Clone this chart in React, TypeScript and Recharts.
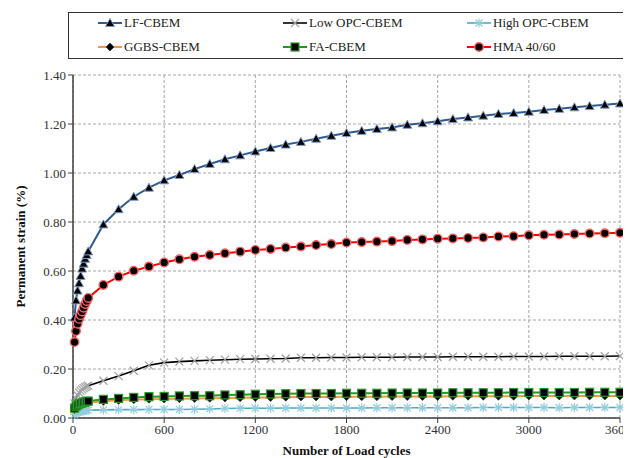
import React from "react";
import {
  LineChart,
  Line,
  XAxis,
  YAxis,
  CartesianGrid,
  Legend,
  Label,
} from "recharts";

// load cycles: dense readings up to 100, then every 100 cycles
const cycles = [
  10, 20, 30, 40, 50, 60, 70, 80, 90, 100,
  200, 300, 400, 500, 600, 700, 800, 900, 1000, 1100,
  1200, 1300, 1400, 1500, 1600, 1700, 1800, 1900, 2000, 2100,
  2200, 2300, 2400, 2500, 2600, 2700, 2800, 2900, 3000, 3100,
  3200, 3300, 3400, 3500, 3600,
];

// permanent strain (%) per mix
const lfCbem = [
  0.41, 0.48, 0.52, 0.55, 0.58, 0.61, 0.63, 0.65, 0.665, 0.68,
  0.79, 0.852, 0.903, 0.94, 0.97, 0.992, 1.016, 1.037, 1.056, 1.072,
  1.088, 1.102, 1.116, 1.127, 1.14, 1.152, 1.163, 1.172, 1.18, 1.186,
  1.197, 1.203, 1.211, 1.22, 1.227, 1.234, 1.241, 1.245, 1.25, 1.257,
  1.262, 1.268, 1.273, 1.279, 1.284,
];
const lowOpcCbem = [
  0.06, 0.08, 0.093, 0.103, 0.111, 0.117, 0.122, 0.126, 0.129, 0.132,
  0.152, 0.171, 0.193, 0.215, 0.226, 0.23, 0.233, 0.236, 0.238, 0.24,
  0.241, 0.242, 0.243, 0.246, 0.246, 0.247, 0.247, 0.248, 0.248, 0.248,
  0.249, 0.249, 0.249, 0.25, 0.25, 0.25, 0.25, 0.251, 0.251, 0.251,
  0.252, 0.252, 0.252, 0.252, 0.253,
];
const highOpcCbem = [
  0.015, 0.02, 0.023, 0.025, 0.027, 0.028, 0.029, 0.03, 0.031, 0.032,
  0.033, 0.034, 0.034, 0.035, 0.035, 0.035, 0.036, 0.037, 0.039, 0.04,
  0.04, 0.04, 0.041, 0.041, 0.041, 0.041, 0.041, 0.041, 0.042, 0.042,
  0.042, 0.042, 0.042, 0.042, 0.042, 0.043, 0.043, 0.043, 0.043, 0.043,
  0.042, 0.043, 0.043, 0.043, 0.043,
];
const ggbsCbem = [
  0.035, 0.042, 0.047, 0.051, 0.054, 0.056, 0.058, 0.06, 0.061, 0.062,
  0.068, 0.072, 0.075, 0.077, 0.078, 0.079, 0.08, 0.081, 0.082, 0.083,
  0.084, 0.084, 0.085, 0.086, 0.086, 0.086, 0.087, 0.087, 0.087, 0.088,
  0.088, 0.088, 0.088, 0.089, 0.089, 0.089, 0.089, 0.089, 0.09, 0.09,
  0.09, 0.09, 0.09, 0.09, 0.09,
];
const faCbem = [
  0.04, 0.048, 0.053, 0.057, 0.06, 0.062, 0.064, 0.066, 0.068, 0.069,
  0.076, 0.08, 0.084, 0.087, 0.088, 0.09, 0.091, 0.091, 0.094, 0.095,
  0.097, 0.098, 0.099, 0.1, 0.1, 0.1, 0.101, 0.101, 0.101, 0.102,
  0.102, 0.102, 0.102, 0.103, 0.103, 0.103, 0.103, 0.104, 0.104, 0.104,
  0.104, 0.104, 0.105, 0.105, 0.105,
];
const hma4060 = [
  0.31, 0.355, 0.385, 0.405, 0.42, 0.435, 0.45, 0.465, 0.478, 0.49,
  0.543, 0.577, 0.601, 0.618, 0.635, 0.648, 0.658, 0.665, 0.672, 0.679,
  0.686, 0.69, 0.696, 0.7, 0.706, 0.71, 0.716, 0.718, 0.72, 0.722,
  0.727, 0.729, 0.732, 0.733, 0.735, 0.737, 0.741, 0.742, 0.746, 0.748,
  0.749, 0.751, 0.753, 0.754, 0.756,
];

const xTicks = [0, 600, 1200, 1800, 2400, 3000, 3600];
const yTicks = [0, 0.2, 0.4, 0.6, 0.8, 1.0, 1.2, 1.4];

const data = cycles.map((c, i) => ({
  cycles: c,
  lf: lfCbem[i],
  lowOpc: lowOpcCbem[i],
  highOpc: highOpcCbem[i],
  ggbs: ggbsCbem[i],
  fa: faCbem[i],
  hma: hma4060[i],
}));

const FONT = "'Liberation Serif', 'Times New Roman', serif";

// marker shapes
type MarkerKind = "triangle" | "cross" | "star" | "diamond" | "square" | "circle";

function Marker({ kind, cx, cy }: { kind: MarkerKind; cx: number; cy: number }) {
  switch (kind) {
    case "triangle":
      return (
        <path
          d={`M${cx},${cy - 4.5}L${cx + 4.5},${cy + 3.5}L${cx - 4.5},${cy + 3.5}Z`}
          fill="#000"
          stroke="#7f9cc8"
          strokeWidth={1}
        />
      );
    case "cross":
      return (
        <path
          d={`M${cx - 4},${cy - 4}L${cx + 4},${cy + 4}M${cx - 4},${cy + 4}L${cx + 4},${cy - 4}`}
          stroke="#a0a0a0"
          strokeWidth={1.2}
          fill="none"
        />
      );
    case "star":
      return (
        <path
          d={`M${cx - 4.5},${cy}L${cx + 4.5},${cy}M${cx - 3.5},${cy - 3.5}L${cx + 3.5},${cy + 3.5}M${cx - 3.5},${cy + 3.5}L${cx + 3.5},${cy - 3.5}M${cx},${cy - 4.5}L${cx},${cy + 4.5}`}
          stroke="#93cddd"
          strokeWidth={1.2}
          fill="none"
        />
      );
    case "diamond":
      return (
        <path
          d={`M${cx},${cy - 4}L${cx + 4},${cy}L${cx},${cy + 4}L${cx - 4},${cy}Z`}
          fill="#000"
          stroke="#333"
          strokeWidth={0.8}
        />
      );
    case "square":
      return (
        <rect
          x={cx - 4}
          y={cy - 4}
          width={8}
          height={8}
          fill="#000"
          stroke="#2a9a2a"
          strokeWidth={1.2}
        />
      );
    default:
      return <circle cx={cx} cy={cy} r={4.3} fill="#000" stroke="#ff6060" strokeWidth={1.4} />;
  }
}

const dotFor = (kind: MarkerKind) => (props: any) => {
  const { cx, cy, index } = props;
  return (
    <g key={`${kind}-${index}`}>
      <Marker kind={kind} cx={cx} cy={cy} />
    </g>
  );
};

const series = [
  { key: "lf", name: "LF-CBEM", color: "#2f5b92", width: 2, marker: "triangle" as MarkerKind },
  { key: "lowOpc", name: "Low OPC-CBEM", color: "#000000", width: 1.6, marker: "cross" as MarkerKind },
  { key: "highOpc", name: "High OPC-CBEM", color: "#4bacc6", width: 1.6, marker: "star" as MarkerKind },
  { key: "ggbs", name: "GGBS-CBEM", color: "#f79646", width: 2, marker: "diamond" as MarkerKind },
  { key: "fa", name: "FA-CBEM", color: "#1f9a1f", width: 2, marker: "square" as MarkerKind },
  { key: "hma", name: "HMA 40/60", color: "#ff0000", width: 2, marker: "circle" as MarkerKind },
];

// boxed legend, three columns by two rows
const legendCols = [29, 214, 398];
const legendRows = [10, 34];

function LegendBox() {
  return (
    <div
      style={{
        position: "relative",
        width: 557,
        height: 47,
        border: "1.5px solid #333",
        boxSizing: "border-box",
        fontFamily: FONT,
        fontSize: 13,
        color: "#222",
      }}
    >
      {series.map((s, i) => (
        <div
          key={s.key}
          style={{
            position: "absolute",
            left: legendCols[i % 3],
            top: legendRows[Math.floor(i / 3)] - 8,
            height: 16,
            display: "flex",
            alignItems: "center",
            whiteSpace: "nowrap",
          }}
        >
          <svg width={24} height={16} style={{ marginRight: 2 }}>
            <line x1={0} y1={8} x2={24} y2={8} stroke={s.color} strokeWidth={s.width} />
            <Marker kind={s.marker} cx={12} cy={8} />
          </svg>
          <span>{s.name}</span>
        </div>
      ))}
    </div>
  );
}

const tickStyle = { fontSize: 13, fill: "#333", fontFamily: FONT };

export default function App() {
  return (
    <div style={{ width: 623, height: 450, fontFamily: FONT }}>
      <LineChart
        width={623}
        height={450}
        data={data}
        margin={{ top: 67, right: 11, left: 5, bottom: 0 }}
      >
        <CartesianGrid stroke="#a6a6a6" strokeDasharray="3 2" verticalPoints={undefined} />
        <XAxis
          dataKey="cycles"
          type="number"
          domain={[0, 3600]}
          ticks={xTicks}
          height={40}
          tick={tickStyle}
          tickSize={5}
          axisLine={{ stroke: "#404040", strokeWidth: 1.5 }}
          tickLine={{ stroke: "#404040" }}
        >
          <Label
            value="Number of Load cycles"
            position="insideBottom"
            offset={3}
            style={{ fontSize: 13, fontWeight: "bold", fill: "#111", fontFamily: FONT }}
          />
        </XAxis>
        <YAxis
          type="number"
          domain={[0, 1.4]}
          ticks={yTicks}
          width={60}
          tick={tickStyle}
          tickSize={5}
          tickFormatter={(v: number) => v.toFixed(2)}
          axisLine={{ stroke: "#404040", strokeWidth: 1.5 }}
          tickLine={{ stroke: "#404040" }}
        >
          <Label
            value="Permanent strain (%)"
            angle={-90}
            position="insideLeft"
            offset={7}
            style={{ fontSize: 13, fontWeight: "bold", fill: "#111", fontFamily: FONT, textAnchor: "middle" }}
          />
        </YAxis>
        <Legend
          layout="horizontal"
          verticalAlign="middle"
          align="center"
          wrapperStyle={{ top: 4, left: 60, width: 557 }}
          content={() => <LegendBox />}
        />
        {series.map((s) => (
          <Line
            key={s.key}
            dataKey={s.key}
            name={s.name}
            stroke={s.color}
            strokeWidth={s.width}
            dot={dotFor(s.marker)}
            activeDot={false}
            isAnimationActive={false}
          />
        ))}
      </LineChart>
    </div>
  );
}
